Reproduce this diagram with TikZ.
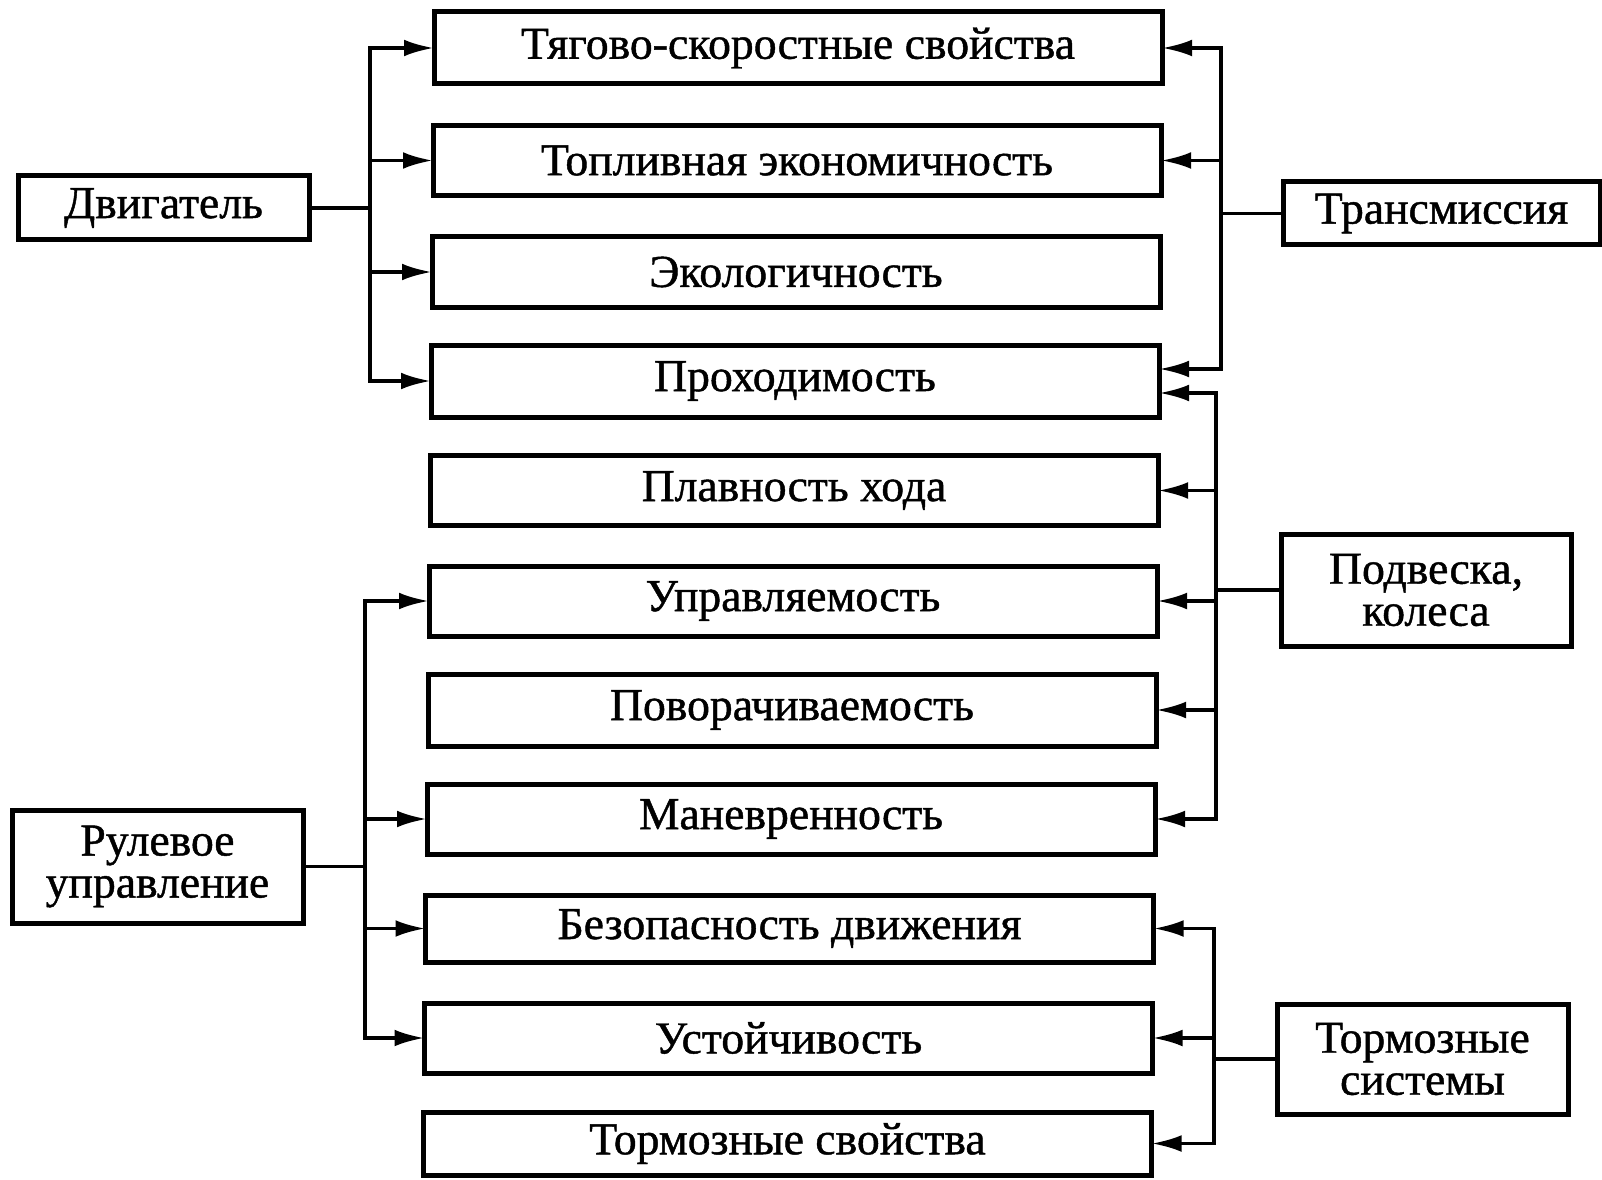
\documentclass[tikz,border=0pt]{standalone}
\usepackage{fontspec}
\setmainfont{Liberation Serif}[FakeBold=1.0]
\usetikzlibrary{arrows.meta}
\begin{document}
\begin{tikzpicture}[x=0.3pt,y=-0.3pt,
  box/.style={draw,line width=1.5pt,inner sep=0pt,outer sep=0pt,align=center,
    font=\fontsize{13.7}{12.6}\selectfont},
  mid/.style={box,minimum width=728*0.3pt,minimum height=70*0.3pt},
  conn/.style={line width=1.1pt},
  arr/.style={conn,-{Latex[length=9pt,width=5pt]}}]
\useasboundingbox (0,0) rectangle (1602,1180);
% central boxes
\node[mid,minimum height=72*0.3pt] (b1) at (798,48) {Тягово-скоростные свойства};
\node[mid] (b2) at (797,160.5) {Топливная экономичность};
\node[mid] (b3) at (796,272) {Экологичность};
\node[mid,minimum height=72*0.3pt] (b4) at (795,381) {Проходимость};
\node[mid] (b5) at (794,490.5) {Плавность хода};
\node[mid] (b6) at (793,601) {Управляемость};
\node[mid,minimum height=72*0.3pt] (b7) at (792,710) {Поворачиваемость};
\node[mid] (b8) at (791,819) {Маневренность};
\node[mid,minimum height=67*0.3pt] (b9) at (789.5,928.5) {Безопасность движения};
\node[mid] (b10) at (788.5,1038) {Устойчивость};
\node[mid,minimum height=63*0.3pt] (b11) at (787.5,1143.5) {Тормозные свойства};
% side boxes
\node[box,minimum width=291*0.3pt,minimum height=64*0.3pt] (dv) at (163.5,208) {Двигатель};
\node[box,minimum width=291*0.3pt,minimum height=113*0.3pt] (ru) at (157.5,866.5) {Рулевое\\управление};
\node[box,minimum width=317*0.3pt,minimum height=63*0.3pt] (tr) at (1441.5,213.5) {Трансмиссия};
\node[box,minimum width=290*0.3pt,minimum height=112*0.3pt] (pk) at (1426,590) {Подвеска,\\колеса};
\node[box,minimum width=291*0.3pt,minimum height=110*0.3pt] (tc) at (1422.5,1059) {Тормозные\\системы};
% junctions
\coordinate (dj) at (370,208);
\coordinate (rj) at (365,866.5);
\coordinate (tj) at (1221,213.5);
\coordinate (pj) at (1216,590);
\coordinate (qj) at (1214,1059);
% engine
\draw[conn] (dv.east) -- (dj);
\foreach \b in {b1,b2,b3,b4} \draw[arr] (dj) |- (\b.west);
% steering
\draw[conn] (ru.east) -- (rj);
\foreach \b in {b6,b8,b9,b10} \draw[arr] (rj) |- (\b.west);
% transmission
\draw[conn] (tr.west) -- (tj);
\draw[arr] (tj) |- (b1.east);
\draw[arr] (tj) |- (b2.east);
\draw[arr] (tj) |- ([yshift=3.6pt]b4.east);
% suspension
\draw[conn] (pk.west) -- (pj);
\draw[arr] (pj) |- ([yshift=-3.6pt]b4.east);
\foreach \b in {b5,b6,b7,b8} \draw[arr] (pj) |- (\b.east);
% brakes
\draw[conn] (tc.west) -- (qj);
\foreach \b in {b9,b10,b11} \draw[arr] (qj) |- (\b.east);
\end{tikzpicture}
\end{document}
